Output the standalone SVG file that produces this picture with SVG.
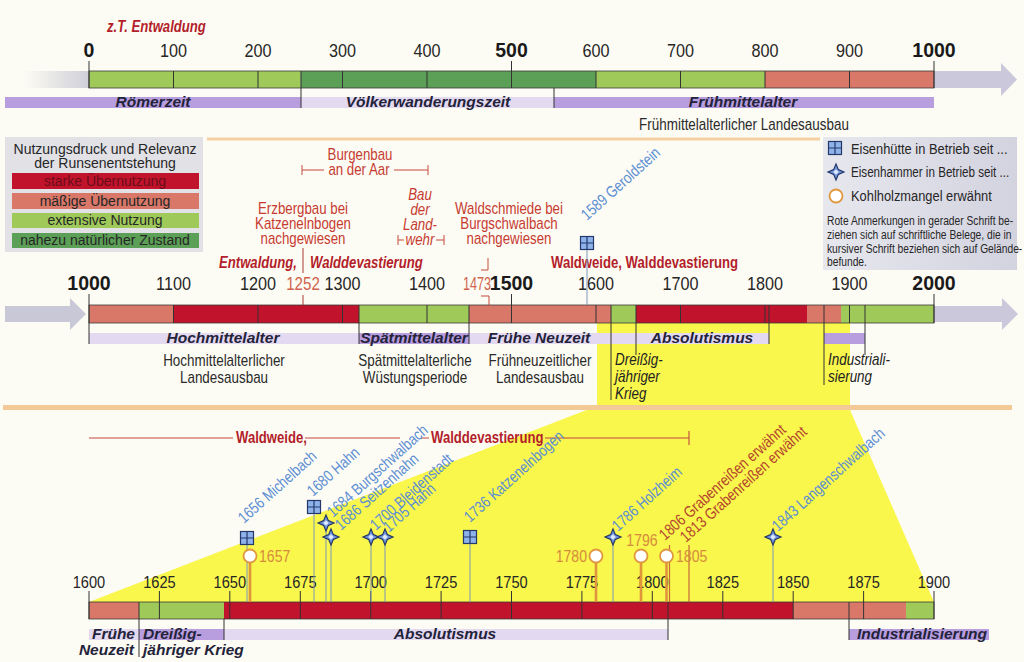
<svg xmlns="http://www.w3.org/2000/svg" width="1024" height="662" viewBox="0 0 1024 662">
<defs>
<style>
text{font-family:"Liberation Sans",Arial,sans-serif}
.num{font-size:18px;fill:#262626;text-anchor:middle}
.numb{font-weight:bold;font-size:19.5px;fill:#1a1a1a;text-anchor:middle}
.yr{font-size:17px;fill:#262626;text-anchor:middle}
.per{font-weight:bold;font-style:italic;font-size:15.5px;fill:#23233a}
.sub{font-size:16px;fill:#2a2a2a;text-anchor:middle}
.ann{font-size:16px;fill:#c63b31}
.annb{font-size:16px;font-weight:bold;fill:#b31e2b}
.ital{font-size:16px;font-style:italic;fill:#222}
.it{font-style:italic}
.mid{text-anchor:middle}
.end{text-anchor:end}
.blu{font-size:16px;fill:#5b8ed3}
.brk{font-size:16px;fill:#b4452e}
.org{font-size:16px;fill:#d58b3d}
.red2{fill:#d0634e}
.bar{fill:none;stroke:#3b3b3b;stroke-width:0.8}
.c1{fill:#c2132d}.c2{fill:#d97869}.c3{fill:#9fca5a}.c4{fill:#5c9f56}
.pS{fill:#b89ddf}.pL{fill:#e3d9f1}
.tk{stroke:#333;stroke-width:1;fill:none}
.stem{stroke:#7d98b8;stroke-width:1;fill:none}
.ostem{stroke:#e0953c;stroke-width:2.6;fill:none}
.rline{stroke:#c5473f;stroke-width:1.1;fill:none}
.lg{font-size:14px;fill:#262626;text-anchor:middle}
.lgi{font-size:15.5px;fill:#262626}
.lgp{font-size:13.5px;fill:#262626}
</style>
<linearGradient id="fadeL" x1="0" x2="1"><stop offset="0" stop-color="#d0d0d8" stop-opacity="0"/><stop offset="1" stop-color="#cfcfd8"/></linearGradient>
<linearGradient id="lgR" x1="0" x2="1"><stop offset="0" stop-color="#e7e7ee"/><stop offset="1" stop-color="#d3d3e0"/></linearGradient>
<g id="hut"><rect x="-6.5" y="-6.5" width="13" height="13" fill="#8db3ea" stroke="#24386a" stroke-width="1.2"/><path d="M0,-6.5V6.5M-6.5,0H6.5" stroke="#24386a" stroke-width="1.2"/></g>
<g id="ham"><path d="M0,-8L2.4,-2.4L8,0L2.4,2.4L0,8L-2.4,2.4L-8,0L-2.4,-2.4Z" fill="#6c92d8" stroke="#1f3264" stroke-width="1.1"/><path d="M0,-2.8L2.8,0L0,2.8L-2.8,0Z" fill="#dce7fb"/></g>
<g id="kohl"><circle r="6.5" fill="#fff" stroke="#e0983f" stroke-width="1.8"/></g>
</defs>

<rect width="1024" height="662" fill="#fdfcf4"/>

<!-- magnified span 1600-1900 -->
<g id="zoom-area"><path d="M597,323H850V410L934,602H89L597,406Z" fill="#f9f64c"/></g>

<g id="dividers">
<path d="M207,139H820" stroke="#f4d0a2" stroke-width="3"/>
<path d="M3,407.5H1012" stroke="#f3c997" stroke-width="5"/>
</g>

<!-- timeline 0 - 1000 -->
<g id="timeline-0-1000">
<text class="annb it" transform="matrix(.82,0,0,1,107,32)">z.T. Entwaldung</text>
<rect x="23" y="71" width="66" height="17" fill="url(#fadeL)"/>
<path d="M934,71H1001V63L1017,79.5L1001,96V88H934Z" fill="#cac8da"/>
<rect class="c3" x="89" y="71" width="211.5" height="17"/>
<rect class="c4" x="300.5" y="71" width="295.5" height="17"/>
<rect class="c3" x="596" y="71" width="169" height="17"/>
<rect class="c2" x="765" y="71" width="169" height="17"/>
<rect class="bar" x="89" y="71" width="845" height="17"/>
<rect class="pS" x="5" y="97" width="296" height="11"/>
<rect class="pL" x="301" y="97" width="253" height="11"/>
<rect class="pS" x="554" y="97" width="380" height="11"/>
<path class="tk" d="M89,61V88M511.5,61V88M934,61V88M173.5,71V88M258,71V88M342.5,71V88M427,71V88M596,71V88M680.5,71V88M765,71V88M849.5,71V88M301,71V108M554,88V108"/>
<text class="numb" x="89" y="57">0</text>
<text class="num" transform="matrix(.9,0,0,1,173.5,57)">100</text>
<text class="num" transform="matrix(.9,0,0,1,258,57)">200</text>
<text class="num" transform="matrix(.9,0,0,1,342.5,57)">300</text>
<text class="num" transform="matrix(.9,0,0,1,427,57)">400</text>
<text class="numb" x="511.5" y="57">500</text>
<text class="num" transform="matrix(.9,0,0,1,596,57)">600</text>
<text class="num" transform="matrix(.9,0,0,1,680.5,57)">700</text>
<text class="num" transform="matrix(.9,0,0,1,765,57)">800</text>
<text class="num" transform="matrix(.9,0,0,1,849.5,57)">900</text>
<text class="numb" x="934" y="57">1000</text>
<text class="per mid" x="153" y="107">Römerzeit</text>
<text class="per mid" x="428" y="107">Völkerwanderungszeit</text>
<text class="per mid" x="743" y="107">Frühmittelalter</text>
<text class="sub" transform="matrix(.84,0,0,1,744,130)">Frühmittelalterlicher Landesausbau</text>
</g>

<!-- legend: pressure of use -->
<g id="legend-usage">
<rect x="5" y="137" width="198" height="115" fill="#e1e1e6"/>
<text class="lg" x="105" y="154">Nutzungsdruck und Relevanz</text>
<text class="lg" x="105" y="168">der Runsenentstehung</text>
<rect class="c1" x="12" y="173" width="187" height="16"/>
<rect class="c2" x="12" y="193" width="187" height="16"/>
<rect class="c3" x="12" y="213" width="187" height="15"/>
<rect class="c4" x="12" y="233" width="187" height="15"/>
<text class="lg" x="105" y="186" style="fill:#6a0d17">starke Übernutzung</text>
<text class="lg" x="105" y="206">mäßige Übernutzung</text>
<text class="lg" x="105" y="225">extensive Nutzung</text>
<text class="lg" x="105" y="245">nahezu natürlicher Zustand</text>
</g>

<!-- legend: symbols -->
<g id="legend-symbols">
<rect x="823" y="137" width="194" height="133" fill="url(#lgR)"/>
<use href="#hut" x="835" y="148"/>
<use href="#ham" x="836" y="172"/>
<use href="#kohl" x="836" y="196"/>
<text class="lgi" transform="matrix(.83,0,0,1,851,154)">Eisenhütte in Betrieb seit ...</text>
<text class="lgi" transform="matrix(.75,0,0,1,851,177)">Eisenhammer in Betrieb seit ...</text>
<text class="lgi" transform="matrix(.83,0,0,1,851,201)">Kohlholzmangel erwähnt</text>
<text class="lgp" transform="matrix(.76,0,0,1,827,225)">Rote Anmerkungen in gerader Schrift be-</text>
<text class="lgp" transform="matrix(.76,0,0,1,827,239)">ziehen sich auf schriftliche Belege, die in</text>
<text class="lgp" transform="matrix(.76,0,0,1,827,253)">kursiver Schrift beziehen sich auf Gelände-</text>
<text class="lgp" transform="matrix(.76,0,0,1,827,266)">befunde.</text>
</g>

<!-- timeline 1000 - 2000 -->
<g id="timeline-1000-2000">
<path d="M5,306H70V298L86,314L70,330V322H5Z" fill="#c9c8d6"/>
<path d="M934,306H1002V298L1018,314L1002,330V322H934Z" fill="#cac8da"/>
<rect class="c2" x="89" y="305" width="85" height="18"/>
<rect class="c1" x="174" y="305" width="185" height="18"/>
<rect class="c3" x="359" y="305" width="110" height="18"/>
<rect class="c2" x="469" y="305" width="142" height="18"/>
<rect class="c3" x="611" y="305" width="25" height="18"/>
<rect class="c1" x="636" y="305" width="171" height="18"/>
<rect class="c2" x="807" y="305" width="34" height="18"/>
<rect class="c3" x="841" y="305" width="93" height="18"/>
<rect class="bar" x="89" y="305" width="845" height="18"/>
<rect class="pL" x="89" y="333" width="270" height="11"/>
<rect class="pS" x="359" y="333" width="110" height="11"/>
<rect class="pL" x="469" y="333" width="300" height="11"/>
<rect class="pS" x="824" y="333" width="41" height="11"/>
<path class="tk" d="M89,294V344M511.5,294V323M934,294V323M173.5,305V323M258,305V323M342.5,305V323M427,305V323M596,305V323M680.5,305V323M765,305V323M849.5,305V323M359,305V344M469,305V344M611,305V400M636,305V355M769,305V344M824,305V385M865,305V355"/>
<text class="numb" x="89" y="290">1000</text>
<text class="num" transform="matrix(.9,0,0,1,173.5,290)">1100</text>
<text class="num" transform="matrix(.9,0,0,1,258,290)">1200</text>
<text class="num red2" transform="matrix(.84,0,0,1,303,290)">1252</text>
<text class="num" transform="matrix(.9,0,0,1,342.5,290)">1300</text>
<text class="num" transform="matrix(.9,0,0,1,427,290)">1400</text>
<text class="num red2 end" transform="matrix(.7,0,0,1,491,290)">1473</text>
<text class="numb" x="511.5" y="290">1500</text>
<text class="num" transform="matrix(.9,0,0,1,596,290)">1600</text>
<text class="num" transform="matrix(.9,0,0,1,680.5,290)">1700</text>
<text class="num" transform="matrix(.9,0,0,1,765,290)">1800</text>
<text class="num" transform="matrix(.9,0,0,1,849.5,290)">1900</text>
<text class="numb" x="934" y="290">2000</text>
<text class="per mid" x="223" y="343">Hochmittelalter</text>
<text class="per mid" x="414" y="343">Spätmittelalter</text>
<text class="per mid" x="539" y="343">Frühe Neuzeit</text>
<text class="per mid" x="702" y="343">Absolutismus</text>
<text class="sub" transform="matrix(.84,0,0,1,224,366)">Hochmittelalterlicher</text>
<text class="sub" transform="matrix(.84,0,0,1,224,383)">Landesausbau</text>
<text class="sub" transform="matrix(.84,0,0,1,415,366)">Spätmittelalterliche</text>
<text class="sub" transform="matrix(.84,0,0,1,415,383)">Wüstungsperiode</text>
<text class="sub" transform="matrix(.84,0,0,1,540,366)">Frühneuzeitlicher</text>
<text class="sub" transform="matrix(.84,0,0,1,540,383)">Landesausbau</text>
<text class="ital" transform="matrix(.84,0,0,1,615,365)">Dreißig-</text>
<text class="ital" transform="matrix(.84,0,0,1,615,382)">jähriger</text>
<text class="ital" transform="matrix(.84,0,0,1,615,399)">Krieg</text>
<text class="ital" transform="matrix(.84,0,0,1,828,365)">Industriali-</text>
<text class="ital" transform="matrix(.84,0,0,1,828,382)">sierung</text>
</g>

<!-- notes above the 1000 - 2000 timeline -->
<g id="notes-middle">
<text class="ann mid" transform="matrix(.83,0,0,1,360,160)">Burgenbau</text>
<text class="ann mid" transform="matrix(.83,0,0,1,359,175)">an der Aar</text>
<text class="ann mid" transform="matrix(.83,0,0,1,303,214)">Erzbergbau bei</text>
<text class="ann mid" transform="matrix(.83,0,0,1,303,229)">Katzenelnbogen</text>
<text class="ann mid" transform="matrix(.83,0,0,1,303,244)">nachgewiesen</text>
<text class="ann it mid" transform="matrix(.83,0,0,1,420,200)">Bau</text>
<text class="ann it mid" transform="matrix(.83,0,0,1,420,215)">der</text>
<text class="ann it mid" transform="matrix(.83,0,0,1,420,230)">Land-</text>
<text class="ann it mid" transform="matrix(.83,0,0,1,420,245)">wehr</text>
<text class="ann mid" transform="matrix(.83,0,0,1,509,214)">Waldschmiede bei</text>
<text class="ann mid" transform="matrix(.83,0,0,1,509,229)">Burgschwalbach</text>
<text class="ann mid" transform="matrix(.83,0,0,1,509,244)">nachgewiesen</text>
<text class="annb it end" transform="matrix(.82,0,0,1,297,268)">Entwaldung,</text>
<text class="annb it" transform="matrix(.82,0,0,1,310,268)">Walddevastierung</text>
<text class="annb" transform="matrix(.82,0,0,1,551,268)">Waldweide, Walddevastierung</text>
<use href="#hut" x="587" y="243"/>
<text class="blu" transform="translate(587,221) rotate(-42) scale(.82,1)">1589 Geroldstein</text>
</g>

<!-- timeline 1600 - 1900 -->
<g id="timeline-1600-1900">
<rect class="c2" x="89" y="602" width="50" height="17"/>
<rect class="c3" x="139" y="602" width="85" height="17"/>
<rect class="c1" x="224" y="602" width="569" height="17"/>
<rect class="c2" x="793" y="602" width="113" height="17"/>
<rect class="c3" x="906" y="602" width="28" height="17"/>
<rect class="bar" x="89" y="602" width="845" height="17"/>
<rect class="pL" x="89" y="629" width="50" height="11"/>
<rect class="pS" x="139" y="629" width="85" height="11"/>
<rect class="pL" x="224" y="629" width="444" height="11"/>
<rect class="pS" x="849" y="629" width="140" height="11"/>
<path class="tk" d="M89,591V619M159.4,591V619M229.8,591V619M300.3,591V619M370.7,591V619M441.1,591V619M511.5,591V619M581.9,591V619M652.3,591V619M722.8,591V619M793.2,591V619M863.6,591V619M934,591V619M139,602V657M224,619V640M668,602V640M849,602V640"/>
<text class="yr" transform="matrix(.86,0,0,1,89,588)">1600</text>
<text class="yr" transform="matrix(.86,0,0,1,159.4,588)">1625</text>
<text class="yr" transform="matrix(.86,0,0,1,229.8,588)">1650</text>
<text class="yr" transform="matrix(.86,0,0,1,300.3,588)">1675</text>
<text class="yr" transform="matrix(.86,0,0,1,370.7,588)">1700</text>
<text class="yr" transform="matrix(.86,0,0,1,441.1,588)">1725</text>
<text class="yr" transform="matrix(.86,0,0,1,511.5,588)">1750</text>
<text class="yr" transform="matrix(.86,0,0,1,581.9,588)">1775</text>
<text class="yr" transform="matrix(.86,0,0,1,652.3,588)">1800</text>
<text class="yr" transform="matrix(.86,0,0,1,722.8,588)">1825</text>
<text class="yr" transform="matrix(.86,0,0,1,793.2,588)">1850</text>
<text class="yr" transform="matrix(.86,0,0,1,863.6,588)">1875</text>
<text class="yr" transform="matrix(.86,0,0,1,934,588)">1900</text>
<text class="per end" x="135" y="639">Frühe</text>
<text class="per end" x="134" y="655">Neuzeit</text>
<text class="per" x="143" y="639">Dreißig-</text>
<text class="per" x="143" y="655">jähriger Krieg</text>
<text class="per mid" x="445" y="639">Absolutismus</text>
<text class="per" x="857" y="639">Industrialisierung</text>
</g>

<!-- leader lines, brackets and stems -->
<g id="connectors">
<path d="M302,165V175M302,170H324M394,170H428M428,165V175" stroke="#c44a3a" stroke-width="1" fill="none"/>
<path d="M398,235V245M398,240H404M436,240H444M444,235V245" stroke="#c44a3a" stroke-width="1" fill="none"/>
<path d="M303,248V273M303,295V305" stroke="#a8382e" stroke-width="1" fill="none"/>
<path d="M488,258V270H481M481,296H489V305" stroke="#c44a3a" stroke-width="1" fill="none"/>
<path class="stem" d="M587,250V305"/>
<path class="rline" d="M89,438H233M305,438H400M421,438H429M545,438H689M689,431V445"/>
<path class="stem" d="M247,545V602M314,514V602M326,531V602M331,545V602M371,545V602M385,545V602M470,544V602M613,545V602M773,545V602"/>
<path class="ostem" d="M250,563V602M596,563V602M641,563V602M666.5,563V602"/>
<path d="M669.5,545V602M689,545V602" stroke="#c66a3c" stroke-width="1.2" fill="none"/>
</g>

<!-- events 1600 - 1900 -->
<g id="events">
<text class="annb" transform="matrix(.82,0,0,1,236,443)">Waldweide,</text>
<text class="annb" transform="matrix(.82,0,0,1,431,443)">Walddevastierung</text>
<use href="#hut" x="247" y="538"/>
<use href="#hut" x="314" y="507"/>
<use href="#ham" x="326" y="523"/>
<use href="#ham" x="331" y="537"/>
<use href="#ham" x="371" y="537"/>
<use href="#ham" x="385" y="537"/>
<use href="#hut" x="470" y="537"/>
<use href="#ham" x="613" y="537"/>
<use href="#ham" x="773" y="537"/>
<use href="#kohl" x="250" y="556"/>
<use href="#kohl" x="596" y="556"/>
<use href="#kohl" x="641" y="556"/>
<use href="#kohl" x="666.5" y="556"/>
<text class="blu" transform="translate(244,524) rotate(-42) scale(.82,1)">1656 Michelbach</text>
<text class="blu" transform="translate(313,497) rotate(-42) scale(.82,1)">1680 Hahn</text>
<text class="blu" transform="translate(333,518) rotate(-42) scale(.82,1)">1684 Burgschwalbach</text>
<text class="blu" transform="translate(341,531) rotate(-42) scale(.82,1)">1686 Seitzenhahn</text>
<text class="blu" transform="translate(376,531) rotate(-42) scale(.82,1)">1700 Bleidenstadt</text>
<text class="blu" transform="translate(389,533) rotate(-42) scale(.82,1)">1705 Hahn</text>
<text class="blu" transform="translate(470,523) rotate(-42) scale(.82,1)">1736 Katzenelnbogen</text>
<text class="blu" transform="translate(618,532) rotate(-42) scale(.82,1)">1786 Holzheim</text>
<text class="blu" transform="translate(778,532) rotate(-42) scale(.82,1)">1843 Langenschwalbach</text>
<text class="brk" transform="translate(665,541) rotate(-42) scale(.82,1)">1806 Grabenreißen erwähnt</text>
<text class="brk" transform="translate(686,543) rotate(-42) scale(.82,1)">1813 Grabenreißen erwähnt</text>
<text class="org" transform="matrix(.88,0,0,1,259,562)">1657</text>
<text class="org end" transform="matrix(.88,0,0,1,587,562)">1780</text>
<text class="org mid" transform="matrix(.88,0,0,1,642,546)">1796</text>
<text class="org" transform="matrix(.88,0,0,1,676,562)">1805</text>
</g>
</svg>
